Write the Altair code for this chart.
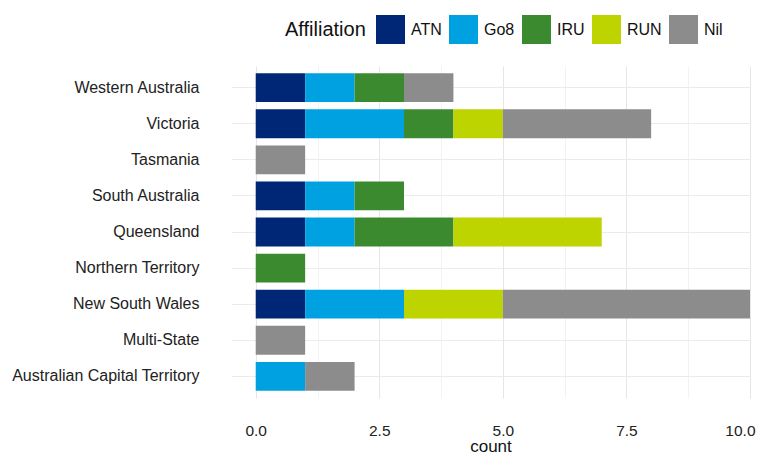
import altair as alt
import pandas as pd

states = ["Western Australia", "Victoria", "Tasmania", "South Australia", "Queensland",
          "Northern Territory", "New South Wales", "Multi-State", "Australian Capital Territory"]
affiliations = ["ATN", "Go8", "IRU", "RUN", "Nil"]
colors = ["#002776", "#00A1E1", "#3B8A2F", "#BED400", "#8C8C8C"]

atn = [1, 1, 0, 1, 1, 0, 1, 0, 0]
go8 = [1, 2, 0, 1, 1, 0, 2, 0, 1]
iru = [1, 1, 0, 1, 2, 1, 0, 0, 0]
run = [0, 1, 0, 0, 3, 0, 2, 0, 0]
nil = [1, 3, 1, 0, 0, 0, 5, 1, 1]

x_ticks = [0, 1.25, 2.5, 3.75, 5, 6.25, 7.5, 8.75, 10]

series = {"ATN": atn, "Go8": go8, "IRU": iru, "RUN": run, "Nil": nil}
rows = []
for k, aff in enumerate(affiliations):
    for s, v in zip(states, series[aff]):
        if v > 0:
            rows.append({"state": s, "Affiliation": aff, "count": v, "ord": k})
df = pd.DataFrame(rows)

FONT = "Liberation Sans"

chart = alt.Chart(df).mark_bar().encode(
    y=alt.Y("state:N", sort=states, title=None,
            scale=alt.Scale(paddingInner=0.2, paddingOuter=0.2),
            axis=alt.Axis(ticks=False, tickSize=0, domain=False, labelPadding=32,
                          labelFontSize=16, labelColor="#222222", labelFont=FONT,
                          labelLimit=300,
                          gridColor="#ebebeb", gridWidth=1, grid=True)),
    x=alt.X("sum(count):Q", title="count", stack="zero",
            scale=alt.Scale(domain=[-0.5, 10.0], nice=False, zero=False),
            axis=alt.Axis(values=x_ticks, ticks=False, tickSize=0, domain=False,
                          labelExpr="datum.value % 2.5 === 0 ? format(datum.value, '.1f') : ''",
                          labelAlign={"condition": {"test": "datum.value === 10", "value": "right"}, "value": "center"},
                          labelOffset={"condition": {"test": "datum.value === 10", "value": 5}, "value": 0},
                          labelPadding=25, labelFontSize=15.5, labelColor="#222222",
                          labelFont=FONT,
                          titleFontSize=17, titleFont=FONT, titleColor="#111111",
                          titleFontWeight="normal", titlePadding=0,
                          gridColor={"condition": {"test": "datum.value % 2.5 === 0", "value": "#e6e6e6"}, "value": "#f2f2f2"},
                          gridWidth=1)),
    color=alt.Color("Affiliation:N",
                    scale=alt.Scale(domain=affiliations, range=colors),
                    legend=alt.Legend(orient="none", legendX=54, legendY=-51,
                                      direction="horizontal", titleOrient="left",
                                      symbolType="square", symbolSize=841,
                                      symbolStrokeWidth=0, symbolOpacity=1,
                                      labelFontSize=16, labelFont=FONT,
                                      labelColor="#111111", labelOffset=6,
                                      titleFontSize=20, titleFont=FONT,
                                      titleFontWeight="normal", titleColor="#111111",
                                      titlePadding=10, columnPadding=7,
                                      titleBaseline="middle")),
    order=alt.Order("ord:Q", sort="ascending"),
).properties(
    width=519, height=332,
    autosize=alt.AutoSizeParams(type="none"),
    padding={"left": 223, "top": 58, "right": 6, "bottom": 60},
).configure_view(stroke=None)

chart.save("out.html", embed_options={"renderer": "svg", "actions": False})
